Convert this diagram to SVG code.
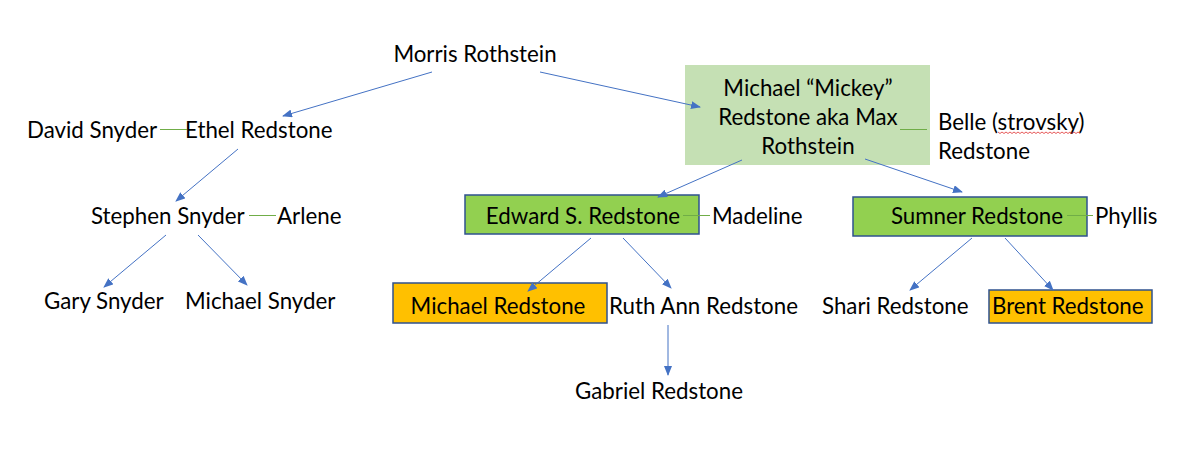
<svg xmlns="http://www.w3.org/2000/svg" width="1200" height="464" viewBox="0 0 1200 464">
<defs>
<marker id="ah" markerWidth="10" markerHeight="8" refX="9" refY="4" orient="auto" markerUnits="userSpaceOnUse">
<path d="M0,0 L10,4 L0,8 Z" fill="#4472C4"/>
</marker>
<style>
text{font-family:Lato,"Liberation Sans",sans-serif;font-size:22.3px;fill:#000}
.m{text-anchor:middle}
.arr{stroke:#4472C4;stroke-width:1;fill:none;marker-end:url(#ah)}
.sp{stroke:#70AD47;stroke-width:1;fill:none}
.box{stroke:#2F528F;stroke-width:1.5}
</style>
</defs>
<rect width="1200" height="464" fill="#fff"/>
<g id="morris"><text class="m" x="475" y="62">Morris Rothstein</text></g>
<g id="mickey">
<rect x="685" y="65" width="245" height="100" fill="#C5E0B4"/>
<text class="m" x="808" y="96">Michael “Mickey”</text>
<text class="m" x="808" y="125">Redstone aka Max</text>
<text class="m" x="808" y="154">Rothstein</text>
</g>
<g id="belle">
<text x="938" y="130">Belle (strovsky)</text>
<text x="938" y="159">Redstone</text>
<path d="M998,132 l2,1.5 l2,-1.5 l2,1.5 l2,-1.5 l2,1.5 l2,-1.5 l2,1.5 l2,-1.5 l2,1.5 l2,-1.5 l2,1.5 l2,-1.5 l2,1.5 l2,-1.5 l2,1.5 l2,-1.5 l2,1.5 l2,-1.5 l2,1.5 l2,-1.5 l2,1.5 l2,-1.5 l2,1.5 l2,-1.5 l2,1.5 l2,-1.5 l2,1.5 l2,-1.5 l2,1.5 l2,-1.5 l2,1.5 l2,-1.5 l2,1.5 l2,-1.5 l2,1.5 l2,-1.5 l2,1.5 l2,-1.5 l2,1.5 l2,-1.5 l2,1.5" fill="none" stroke="#E03030" stroke-width="0.8"/>
</g>
<g id="david"><text x="27" y="138">David Snyder</text></g>
<g id="ethel"><text x="185" y="138">Ethel Redstone</text></g>
<g id="stephen"><text x="91" y="224">Stephen Snyder</text></g>
<g id="arlene"><text x="277" y="224">Arlene</text></g>
<g id="gary"><text x="44" y="309">Gary Snyder</text></g>
<g id="michael-snyder"><text x="185" y="309">Michael Snyder</text></g>
<g id="edward">
<rect class="box" x="465" y="195" width="234" height="39" fill="#92D050"/>
<text class="m" x="583" y="224">Edward S. Redstone</text>
</g>
<g id="madeline"><text x="712" y="224">Madeline</text></g>
<g id="sumner">
<rect class="box" x="853" y="197" width="234" height="39" fill="#92D050"/>
<text class="m" x="977" y="224">Sumner Redstone</text>
</g>
<g id="phyllis"><text x="1095" y="224">Phyllis</text></g>
<g id="michael-redstone">
<rect class="box" x="393" y="283" width="214" height="40" fill="#FFC000"/>
<text class="m" x="498" y="314">Michael Redstone</text>
</g>
<g id="ruth"><text x="609" y="314">Ruth Ann Redstone</text></g>
<g id="shari"><text x="822" y="314">Shari Redstone</text></g>
<g id="brent">
<rect class="box" x="989" y="290" width="163" height="33" fill="#FFC000"/>
<text x="992" y="314">Brent Redstone</text>
</g>
<g id="gabriel"><text x="575" y="399">Gabriel Redstone</text></g>
<g id="connectors">
<line class="arr" x1="432" y1="72" x2="283" y2="116"/>
<line class="arr" x1="540" y1="72" x2="700" y2="107"/>
<line class="arr" x1="238" y1="149" x2="176" y2="201"/>
<line class="arr" x1="166" y1="235" x2="104" y2="287"/>
<line class="arr" x1="198" y1="235" x2="247" y2="285"/>
<line class="arr" x1="742" y1="160" x2="658" y2="197"/>
<line class="arr" x1="865" y1="159" x2="962" y2="192"/>
<line class="arr" x1="591" y1="238" x2="528" y2="291"/>
<line class="arr" x1="623" y1="238" x2="671" y2="288"/>
<line class="arr" x1="972" y1="238" x2="910" y2="290"/>
<line class="arr" x1="1005" y1="238" x2="1053" y2="290"/>
<line class="arr" x1="668" y1="325" x2="668" y2="375"/>
<line class="sp" x1="160" y1="129.5" x2="187" y2="129.5"/>
<line class="sp" x1="249" y1="215.5" x2="276" y2="215.5"/>
<line class="sp" x1="900" y1="129.5" x2="927" y2="129.5"/>
<line class="sp" x1="683" y1="215.5" x2="710" y2="215.5"/>
<line class="sp" x1="1067" y1="215.5" x2="1093" y2="215.5"/>
</g>
</svg>
